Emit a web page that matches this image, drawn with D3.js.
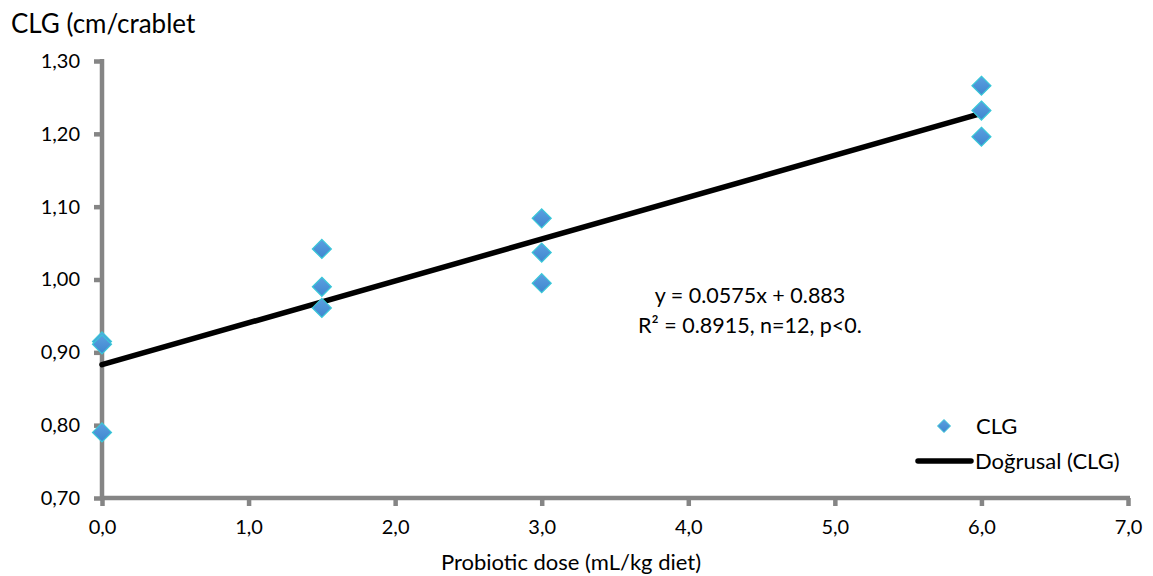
<!DOCTYPE html>
<html>
<head>
<meta charset="utf-8">
<script src="https://cdn.jsdelivr.net/npm/d3@7"></script>
<style>
  body { margin: 0; background: #fff; }
  text { font-family: Lato, "Open Sans", sans-serif; fill: #000; }
  .axis path.domain, .axis .tick line { stroke: #858585; stroke-width: 4.5px; }
</style>
</head>
<body>
<div id="chart"></div>
<script>
// Data
const doses = [0, 0, 0, 1.5, 1.5, 1.5, 3, 3, 3, 6, 6, 6];
const clg = [0.915, 0.911, 0.790, 1.042, 0.990, 0.961, 1.084, 1.037, 0.995, 1.266, 1.232, 1.196];
const slope = 0.0575;
const intercept = 0.883;
const xTicks = [0, 1, 2, 3, 4, 5, 6, 7];
const yTicks = [0.7, 0.8, 0.9, 1.0, 1.1, 1.2, 1.3];
const eqLines = ['y = 0.0575x + 0.883', 'R\u00b2 = 0.8915, n=12, p<0.'];

const width = 1153, height = 576;
const margin = { top: 61, right: 25, bottom: 78, left: 102 };

const svg = d3.select('#chart').append('svg')
  .attr('width', width)
  .attr('height', height);

const x = d3.scaleLinear().domain([0, 7]).range([margin.left, width - margin.right]);
const y = d3.scaleLinear().domain([0.7, 1.3]).range([height - margin.bottom, margin.top]);

const fmt = d => d3.format('.1f')(d).replace('.', ',');
const fmtY = d => d3.format('.2f')(d).replace('.', ',');

// axes
const xAxis = svg.append('g')
  .attr('class', 'axis')
  .attr('transform', `translate(0,${y(0.7)})`)
  .call(d3.axisBottom(x).tickValues(xTicks).tickFormat(fmt).tickSize(8).tickPadding(14));
const yAxis = svg.append('g')
  .attr('class', 'axis')
  .attr('transform', `translate(${x(0)},0)`)
  .call(d3.axisLeft(y).tickValues(yTicks).tickFormat(fmtY).tickSize(8).tickPadding(14));

xAxis.select('.domain').attr('d', `M${x(0) - 2},0H${x(7) + 2}`);
yAxis.select('.domain').attr('d', `M0,${y(0.7) + 2}V${y(1.3) - 2}`);

[xAxis, yAxis].forEach(g => {
  g.selectAll('.tick text').style('font-size', '20px').style('fill', '#000');
});

// trend line
const trend = [0, 6].map(d => ({ x: d, y: intercept + slope * d }));
svg.append('path')
  .datum(trend)
  .attr('fill', 'none')
  .attr('stroke', '#000')
  .attr('stroke-width', 5.5)
  .attr('stroke-linecap', 'round')
  .attr('d', d3.line().x(d => x(d.x)).y(d => y(d.y)));

// gradient for diamonds
const grad = svg.append('defs').append('linearGradient')
  .attr('id', 'dia').attr('x1', 0).attr('y1', 0).attr('x2', 0).attr('y2', 1);
grad.append('stop').attr('offset', '0%').attr('stop-color', '#5aa0e0');
grad.append('stop').attr('offset', '100%').attr('stop-color', '#3f86cf');

const diamond = 'M0,-9.5L9.5,0L0,9.5L-9.5,0Z';

svg.append('g').selectAll('path')
  .data(doses.map((d, i) => ({ x: d, y: clg[i] })))
  .join('path')
  .attr('d', diamond)
  .attr('transform', d => `translate(${x(d.x)},${y(d.y)})`)
  .attr('fill', 'url(#dia)')
  .attr('stroke', '#38c8d8')
  .attr('stroke-width', 1.2);

// equation
svg.append('g').selectAll('text')
  .data(eqLines)
  .join('text')
  .attr('x', 750)
  .attr('y', (d, i) => 303 + i * 30)
  .attr('text-anchor', 'middle')
  .style('font-size', '21.5px')
  .text(d => d);

// axis titles
svg.append('text')
  .attr('x', 11).attr('y', 33)
  .style('font-size', '26px')
  .text('CLG (cm/crablet');
svg.append('text')
  .attr('x', 571).attr('y', 570)
  .attr('text-anchor', 'middle')
  .style('font-size', '22px')
  .text('Probiotic dose (mL/kg diet)');

// legend
const legend = svg.append('g');
legend.append('path')
  .attr('d', 'M0,-6.5L6.5,0L0,6.5L-6.5,0Z')
  .attr('transform', 'translate(944,426)')
  .attr('fill', 'url(#dia)')
  .attr('stroke', '#38c8d8');
legend.append('text').attr('x', 976).attr('y', 434).style('font-size', '22px').text('CLG');
legend.append('line')
  .attr('x1', 918).attr('x2', 971).attr('y1', 461).attr('y2', 461)
  .attr('stroke', '#000').attr('stroke-width', 5.5).attr('stroke-linecap', 'round');
legend.append('text').attr('x', 975).attr('y', 469).style('font-size', '22px').text('Doğrusal (CLG)');
</script>
</body>
</html>
